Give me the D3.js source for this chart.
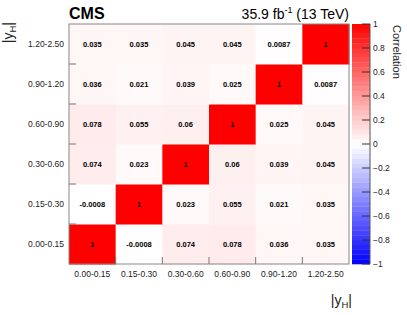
<!DOCTYPE html>
<html><head><meta charset="utf-8">
<script src="https://cdn.jsdelivr.net/npm/d3@7"></script>
<style>body{margin:0;background:#fff}svg{display:block;font-family:"Liberation Sans",Arial,sans-serif}</style>
</head><body><svg id="c" width="407" height="315"></svg>
<script>
const binLabels = ["0.00-0.15","0.15-0.30","0.30-0.60","0.60-0.90","0.90-1.20","1.20-2.50"];
// rows indexed by y bin (bottom to top), columns by x bin
const row0 = [1, -0.0008, 0.074, 0.078, 0.036, 0.035];
const row1 = [-0.0008, 1, 0.023, 0.055, 0.021, 0.035];
const row2 = [0.074, 0.023, 1, 0.06, 0.039, 0.045];
const row3 = [0.078, 0.055, 0.06, 1, 0.025, 0.045];
const row4 = [0.036, 0.021, 0.039, 0.025, 1, 0.0087];
const row5 = [0.035, 0.035, 0.045, 0.045, 0.0087, 1];
const rows = [row0,row1,row2,row3,row4,row5];
const paletteTicks = [1,0.8,0.6,0.4,0.2,0,-0.2,-0.4,-0.6,-0.8,-1];

const svg = d3.select("#c");
const L=69,R=349,T=24,B=264;
const x = d3.scaleBand().domain(binLabels).range([L,R]).padding(0);
const y = d3.scaleBand().domain(binLabels).range([B,T]).padding(0);
const color = d3.scaleLinear().domain([-1,0,1]).range(["#0000ff","#ffffff","#ff0000"]);

const cells=[];
rows.forEach((r,i)=>r.forEach((v,j)=>cells.push({xi:binLabels[j],yi:binLabels[i],v})));
svg.append("g").selectAll("rect").data(cells).join("rect")
 .attr("x",d=>x(d.xi)).attr("y",d=>y(d.yi)).attr("width",x.bandwidth()+0.5).attr("height",y.bandwidth()+0.5)
 .attr("fill",d=>color(d.v));
svg.append("g").selectAll("text").data(cells).join("text")
 .attr("x",d=>x(d.xi)+x.bandwidth()/2).attr("y",d=>y(d.yi)+y.bandwidth()/2+2.5)
 .attr("text-anchor","middle").attr("font-size","7.5px").attr("font-weight","bold").attr("fill","#000")
 .text(d=>String(d.v));

// frame
svg.append("rect").attr("x",L).attr("y",T).attr("width",R-L).attr("height",B-T).attr("fill","none").attr("stroke","#888").attr("stroke-width",1);
// ticks at bin edges
const edges = d3.range(1,binLabels.length);
svg.append("g").selectAll("line").data(edges).join("line")
 .attr("x1",i=>L+i*x.bandwidth()).attr("x2",i=>L+i*x.bandwidth()).attr("y1",B).attr("y2",B-7).attr("stroke","#777");
svg.append("g").selectAll("line").data(edges).join("line")
 .attr("y1",i=>B-i*y.bandwidth()).attr("y2",i=>B-i*y.bandwidth()).attr("x1",L).attr("x2",L+7).attr("stroke","#777");
// tick labels
svg.append("g").selectAll("text").data(binLabels).join("text")
 .attr("x",d=>x(d)+x.bandwidth()/2).attr("y",B+13).attr("text-anchor","middle").attr("font-size","8.5px").attr("fill","#222").text(d=>d);
svg.append("g").selectAll("text").data(binLabels).join("text")
 .attr("x",L-5).attr("y",d=>y(d)+y.bandwidth()/2+3).attr("text-anchor","end").attr("font-size","8.5px").attr("fill","#222").text(d=>d);

// axis titles
const xt = svg.append("text").attr("x",352).attr("y",305).attr("text-anchor","end").attr("font-size","14px").attr("fill","#222");
xt.append("tspan").text("|y");
xt.append("tspan").attr("font-size","9.5px").attr("dy","3").text("H");
xt.append("tspan").attr("dy","-3").text("|");
const yt = svg.append("text").attr("transform","translate(13,22) rotate(-90)").attr("text-anchor","end").attr("font-size","14px").attr("fill","#222");
yt.append("tspan").text("|y");
yt.append("tspan").attr("font-size","9.5px").attr("dy","3").text("H");
yt.append("tspan").attr("dy","-3").text("|");

// title
svg.append("text").attr("x",69).attr("y",19).attr("font-size","16px").attr("font-weight","bold").attr("fill","#000").text("CMS");
const rt = svg.append("text").attr("x",349).attr("y",19).attr("text-anchor","end").attr("font-size","14px").attr("fill","#000");
rt.append("tspan").text("35.9 fb");
rt.append("tspan").attr("font-size","9px").attr("dy","-6").text("-1");
rt.append("tspan").attr("dy","6").text(" (13 TeV)");

// palette
const PL=352,PR=370;
const pz = d3.scaleLinear().domain([-1,1]).range([B,T]);
const nlev=50;
const levels=d3.range(nlev).map(i=>-1+2*i/nlev);
svg.append("g").selectAll("rect").data(levels).join("rect")
 .attr("x",PL).attr("width",PR-PL).attr("y",d=>pz(d+2/nlev)).attr("height",pz(0)-pz(2/nlev)+0.3)
 .attr("fill",d=>color(d+1/nlev));
svg.append("line").attr("x1",PR).attr("x2",PR).attr("y1",T).attr("y2",B).attr("stroke","#555");
svg.append("g").selectAll("line").data(paletteTicks).join("line")
 .attr("x1",PR).attr("x2",PR-8).attr("y1",d=>pz(d)).attr("y2",d=>pz(d)).attr("stroke","#333");
svg.append("g").selectAll("text").data(paletteTicks).join("text")
 .attr("x",PR+3).attr("y",d=>pz(d)+3).attr("font-size","8.5px").attr("fill","#222")
 .text(d=>d<0?"\u2212"+Math.abs(d):String(d));
svg.append("text").attr("transform","translate(393,25) rotate(90)").attr("text-anchor","start").attr("font-size","11px").attr("fill","#222").text("Correlation");
</script></body></html>
